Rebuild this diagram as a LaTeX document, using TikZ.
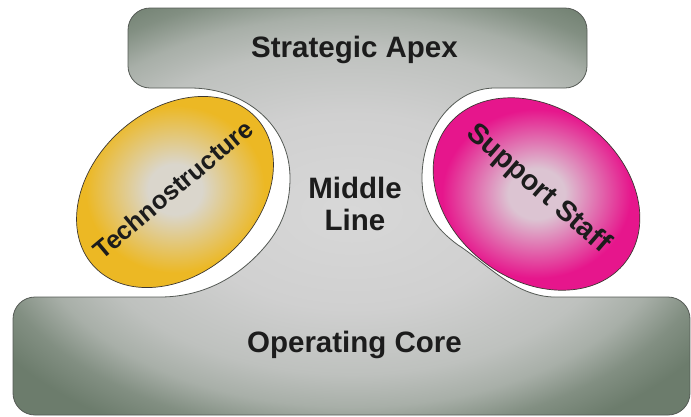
\documentclass[tikz,border=0pt]{standalone}
\usepackage{fontspec}
\setmainfont{Liberation Sans}
\usetikzlibrary{shapes.geometric}

\definecolor{sageA}{RGB}{216,216,216}
\definecolor{sageB}{RGB}{208,208,208}
\definecolor{sageC}{RGB}{190,193,190}
\definecolor{sageD}{RGB}{168,175,168}
\definecolor{sageE}{RGB}{130,143,130}
\definecolor{sageF}{RGB}{108,124,108}
\definecolor{technoIn}{RGB}{218,214,204}
\definecolor{technoOut}{RGB}{236,184,36}
\definecolor{supportIn}{RGB}{220,196,210}
\definecolor{supportOut}{RGB}{230,22,140}
\definecolor{ink}{RGB}{28,28,28}
\definecolor{shapeline}{RGB}{85,90,85}
\definecolor{blobline}{RGB}{60,55,50}

\pgfdeclareradialshading{sageglow}{\pgfpointorigin}{color(0bp)=(sageA); color(12bp)=(sageB); color(20bp)=(sageC); color(24bp)=(sageD); color(27.5bp)=(sageE); color(31bp)=(sageF); color(50bp)=(sageF)}
\pgfdeclareradialshading{technoglow}{\pgfpointorigin}{color(0bp)=(technoIn); color(6bp)=(technoIn); color(20bp)=(technoOut); color(50bp)=(technoOut)}
\pgfdeclareradialshading{supportglow}{\pgfpointorigin}{color(0bp)=(supportIn); color(6bp)=(supportIn); color(20bp)=(supportOut); color(50bp)=(supportOut)}

\begin{document}
\begin{tikzpicture}[x=1pt,y=-1pt]
\tikzstyle{every node}+=[inner sep=0pt]
\tikzstyle{part}=[font=\fontsize{29.5}{32}\selectfont\bfseries, text=ink]
\tikzstyle{blob}=[ellipse, shade, draw=blobline, line width=0.7pt]
\useasboundingbox (0,0) rectangle (691,416);
\shadedraw[shading=sageglow, draw=shapeline, line width=0.8pt] (350,8)
  [rounded corners=22pt] -- (587,8) -- (587,88) -- (540,88)
  [sharp corners] -- (495,88)
  .. controls (455,88) and (422,128) .. (422,178)
  .. controls (422,210) and (435,228) .. (458,245)
  .. controls (485,262) and (515,297) .. (555,297) -- (600,297)
  [rounded corners=22pt] -- (690,297) -- (690,415) -- (13,415) -- (13,297) -- (120,297)
  [sharp corners] -- (160,297)
  .. controls (200,297) and (235,280) .. (262,250)
  .. controls (282,228) and (290,205) .. (290,178)
  .. controls (290,125) and (245,88) .. (190,88) -- (160,88)
  [rounded corners=22pt] -- (128,88) -- (128,8) -- cycle;
\node[blob, shading=technoglow, minimum width=220pt, minimum height=164pt, rotate=42] (techno) at (175,192) {};
\node[blob, shading=supportglow, minimum width=224pt, minimum height=172pt, rotate=-37] (support) at (536.5,194) {};
\node[part, anchor=base] (apex) at (354.5,57) {Strategic Apex};
\node[part, align=center] (middle) at (355,204) {Middle\\Line};
\node[part, anchor=base] (core) at (354.5,352) {Operating Core};
\node[font=\fontsize{25.5}{28}\selectfont\bfseries, text=ink, rotate=40] (techno-text) at (173,189) {Technostructure};
\node[font=\fontsize{28.5}{30}\selectfont\bfseries, text=ink, rotate=-41] (support-text) at (538,189) {Support Staff};
\end{tikzpicture}
\end{document}
